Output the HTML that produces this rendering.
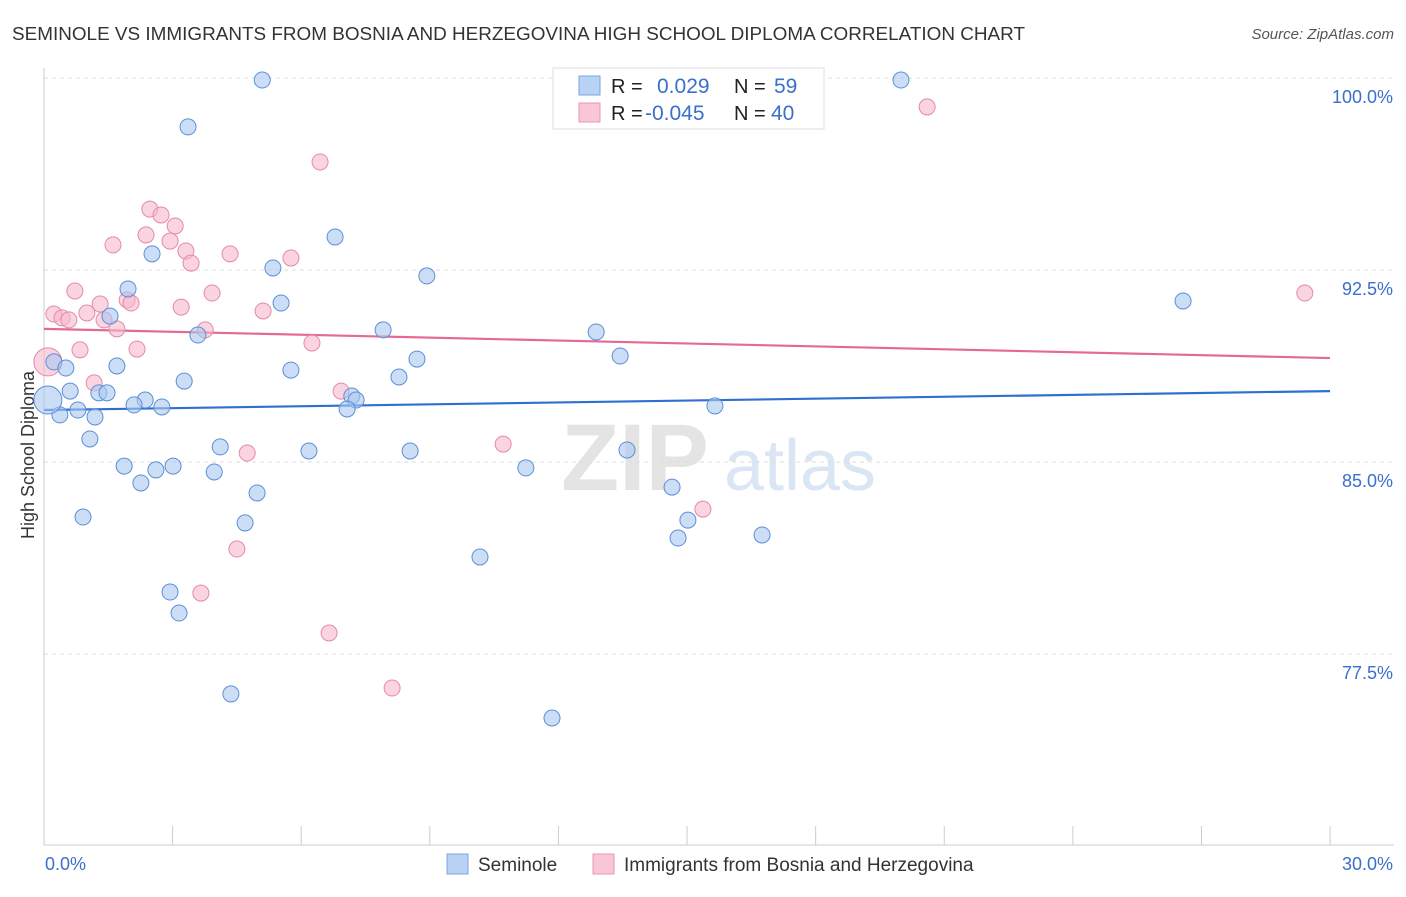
<!DOCTYPE html>
<html><head><meta charset="utf-8"><style>
body{margin:0;background:#fff;font-family:"Liberation Sans",sans-serif}
svg text{font-family:"Liberation Sans",sans-serif}
</style></head><body>
<svg id="c" width="1406" height="892" xmlns="http://www.w3.org/2000/svg">
<text x="12" y="40" font-size="18" fill="#333" textLength="1013" lengthAdjust="spacingAndGlyphs">SEMINOLE VS IMMIGRANTS FROM BOSNIA AND HERZEGOVINA HIGH SCHOOL DIPLOMA CORRELATION CHART</text>
<text x="1394" y="39" font-size="15" fill="#555" font-style="italic" text-anchor="end">Source: ZipAtlas.com</text>
<text x="34" y="455" font-size="18" fill="#333" text-anchor="middle" transform="rotate(-90 34 455)">High School Diploma</text>
<g><text x="635" y="490" font-size="95" fill="#e4e4e4" text-anchor="middle" font-family="Liberation Serif" font-weight="bold">ZIP</text><text x="800" y="490" font-size="72" fill="#dbe6f5" text-anchor="middle">atlas</text></g>
<g id="grid"></g><g id="axes"></g><g id="trend"></g><g id="pts"></g>
<g>
<rect x="553" y="68" width="271" height="61" fill="#fff" stroke="#ddd"/>
<rect x="579" y="76" width="21" height="19" fill="#b8d3f5" stroke="#7aa6e0"/>
<rect x="579" y="103" width="21" height="19" fill="#f9c6d5" stroke="#e89ab3"/>
<text x="611" y="93" font-size="20" fill="#222">R =</text><text x="657" y="93" font-size="21" fill="#3a6fcc">0.029</text>
<text x="734" y="93" font-size="20" fill="#222">N =</text><text x="774" y="93" font-size="21" fill="#3a6fcc">59</text>
<text x="611" y="120" font-size="20" fill="#222">R =</text><text x="645" y="120" font-size="21" fill="#3a6fcc">-0.045</text>
<text x="734" y="120" font-size="20" fill="#222">N =</text><text x="771" y="120" font-size="21" fill="#3a6fcc">40</text>
</g>
<g>
<rect x="447" y="854" width="21" height="20" fill="#b8d3f5" stroke="#7aa6e0"/><text x="478" y="871" font-size="19" fill="#333">Seminole</text>
<rect x="593" y="854" width="21" height="20" fill="#f9c6d5" stroke="#e89ab3"/><text x="624" y="871" font-size="19" fill="#333">Immigrants from Bosnia and Herzegovina</text>
</g>
</svg>
<script>
const blueX=[5.09,3.36,19.99,6.79,2.52,5.34,8.93,1.96,5.53,1.54,3.59,7.91,12.88,13.44,8.70,0.23,0.51,1.70,5.76,8.28,3.27,0.61,1.28,1.47,2.36,2.10,2.75,0.79,0.37,1.19,7.18,7.28,7.07,15.65,1.07,4.11,6.18,8.54,13.60,1.87,3.01,2.61,3.97,11.24,2.26,4.97,14.65,0.91,4.69,15.02,14.79,16.75,10.17,2.94,3.15,4.36,11.85,26.57,0.09];
const blueY=[99.92,98.09,99.92,93.79,93.13,92.58,92.27,91.76,91.21,90.70,89.96,90.16,90.08,89.14,89.02,88.91,88.67,88.75,88.59,88.32,88.16,87.77,87.70,87.70,87.42,87.23,87.15,87.03,86.84,86.76,87.58,87.42,87.07,87.19,85.90,85.59,85.43,85.43,85.47,84.84,84.84,84.69,84.61,84.77,84.18,83.79,84.02,82.85,82.62,82.73,82.03,82.15,81.29,79.92,79.10,75.94,75.00,91.29,87.42];
const pinkX=[20.60,6.44,2.47,2.73,3.06,2.38,2.94,1.61,3.31,4.34,3.43,5.76,0.72,3.92,1.31,1.94,2.03,3.20,5.11,0.23,0.42,0.58,1.00,1.40,1.70,3.76,6.25,0.84,2.17,0.09,1.17,6.93,10.71,4.74,15.37,4.50,3.66,6.65,8.12,29.41];
const pinkY=[98.87,96.72,94.88,94.65,94.22,93.87,93.63,93.48,93.24,93.13,92.77,92.97,91.68,91.60,91.17,91.33,91.21,91.05,90.90,90.78,90.63,90.55,90.82,90.55,90.20,90.16,89.65,89.38,89.41,88.91,88.09,87.77,85.70,85.35,83.16,81.60,79.88,78.32,76.17,91.60];
const blueTrend=[87.03,87.77];
const pinkTrend=[90.20,89.06];
const yTicks=[100,92.5,85,77.5];
const yTickLabels=["100.0%","92.5%","85.0%","77.5%"];
const xTicks=[0,3,6,9,12,15,18,21,24,27,30];
const NS="http://www.w3.org/2000/svg";
const sx=v=>44+v*42.87, sy=v=>78+(100-v)*25.6;
function mk(p,t,a){const e=document.createElementNS(NS,t);for(const k in a)e.setAttribute(k,a[k]);document.getElementById(p).appendChild(e);return e;}
yTicks.forEach((t,i)=>{
 const l=mk('grid','line',{x1:44,x2:1394,y1:sy(t),y2:sy(t),stroke:'#ddd','stroke-dasharray':'4 4'});
 
 
 const tx=mk('grid','text',{x:1393,y:sy(t)+25,'font-size':18,fill:'#3a6fcc','text-anchor':'end'});tx.textContent=yTickLabels[i];
 
 
});
let a=mk('axes','line',{x1:44,x2:44,y1:68,y2:845,stroke:'#ccc'});


a=mk('axes','line',{x1:44,x2:1394,y1:845,y2:845,stroke:'#ccc'});


xTicks.forEach(t=>{const l=mk('axes','line',{x1:sx(t),x2:sx(t),y1:826,y2:845,stroke:'#ccc'});
 
 });
let t0=mk('axes','text',{x:45,y:870,'font-size':18,fill:'#3a6fcc'});t0.textContent='0.0%';


t0=mk('axes','text',{x:1393,y:870,'font-size':18,fill:'#3a6fcc','text-anchor':'end'});t0.textContent='30.0%';


function pts(X,Y,fill,stroke,name){X.forEach((x,i)=>{const big=x<0.15;const c=mk('pts','circle',{cx:sx(x),cy:sy(Y[i]),r:big?14:8,fill:fill,'fill-opacity':0.6,stroke:stroke,'stroke-width':1});
 
 });}
pts(pinkX,pinkY,'#f6b8cc','#e48aa8','bosnia-point');
pts(blueX,blueY,'#a9c8f0','#5b8fd6','seminole-point');
let tl=mk('trend','line',{x1:sx(0),x2:sx(30),y1:sy(blueTrend[0]),y2:sy(blueTrend[1]),stroke:'#2f6fd0','stroke-width':2.2});


tl=mk('trend','line',{x1:sx(0),x2:sx(30),y1:sy(pinkTrend[0]),y2:sy(pinkTrend[1]),stroke:'#e46a94','stroke-width':2.2});


</script>
</body></html>
